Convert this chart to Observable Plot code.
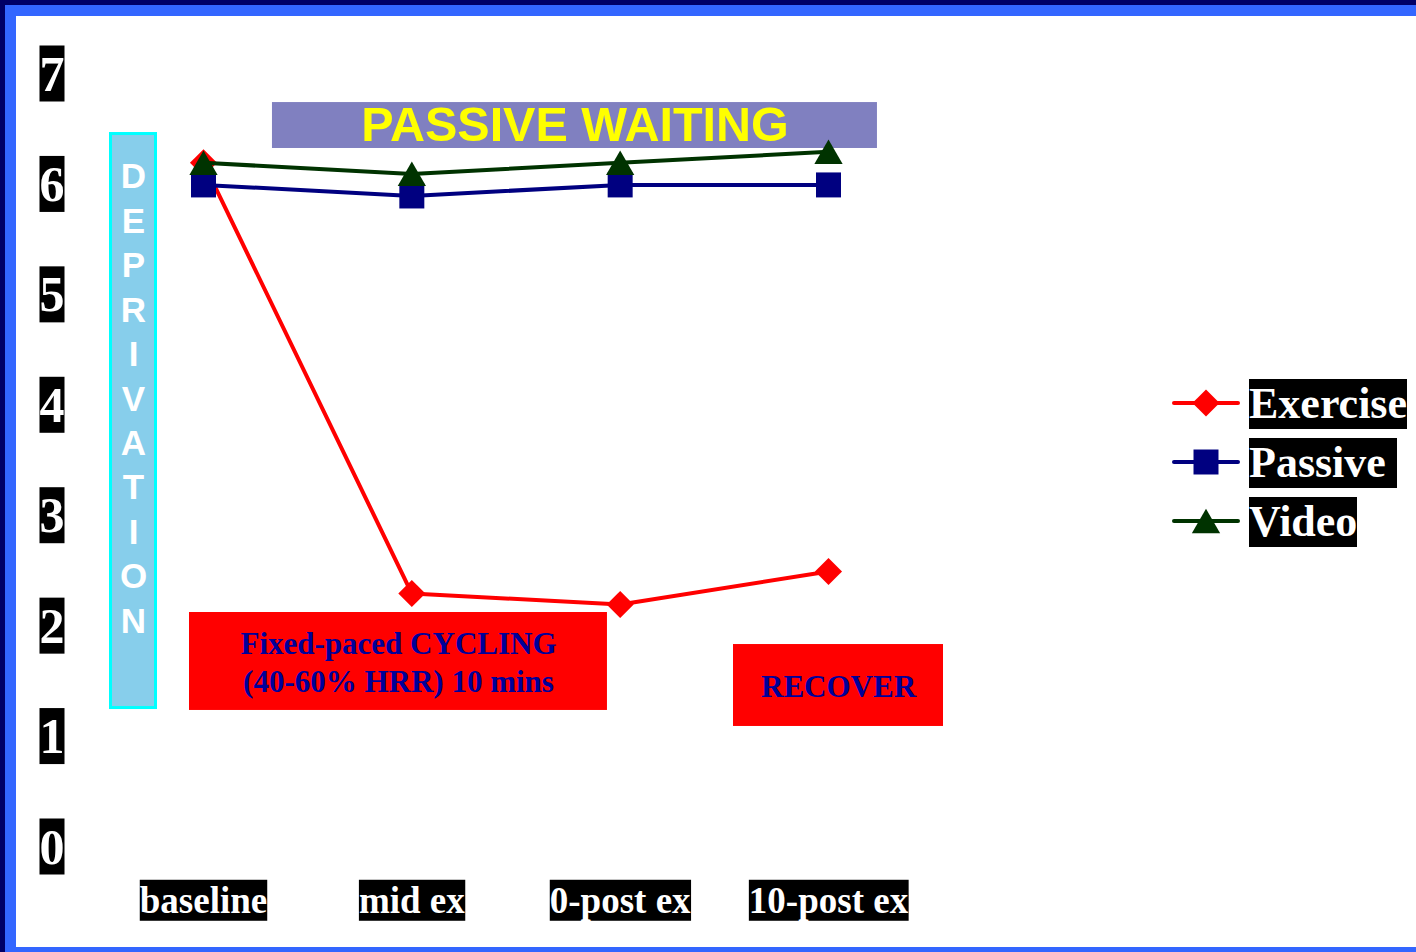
<!DOCTYPE html>
<html><head><meta charset="utf-8">
<script src="https://cdn.jsdelivr.net/npm/d3@7"></script>
<script src="https://cdn.jsdelivr.net/npm/@observablehq/plot@0.6"></script>
<style>
html,body{margin:0;padding:0;background:#fff;}
#wrap{position:relative;width:1416px;height:952px;overflow:hidden;background:#fff;}
#chart{position:absolute;left:0;top:0;}
.b{position:absolute;pointer-events:none;}
#legend{position:absolute;left:1172px;top:379px;font-family:"Liberation Serif","Times New Roman",serif;font-weight:bold;font-size:44px;}
.row{display:flex;align-items:center;height:50px;margin-bottom:9px;}
.row svg{display:block;}
.lab{background:#000;color:#fff;line-height:50px;height:50px;padding:0;margin-left:9px;white-space:pre;}
</style></head>
<body>
<div id="wrap">
  <div id="chart"></div>
  <div id="legend"></div>
  <div class="b" style="left:0;top:0;width:1416px;height:5px;background:#000066"></div>
  <div class="b" style="left:0;top:0;width:5px;height:952px;background:#000066"></div>
  <div class="b" style="left:5px;top:5px;width:1411px;height:11px;background:#3366FF"></div>
  <div class="b" style="left:5px;top:5px;width:11px;height:947px;background:#3366FF"></div>
  <div class="b" style="left:5px;top:947px;width:1411px;height:5px;background:#3366FF"></div>
</div>
<script>
// ---- data ----
const categories = ["baseline", "mid ex", "0-post ex", "10-post ex"];
const seriesNames = ["Exercise", "Passive", "Video"];
const exercise = [6.2, 2.3, 2.2, 2.5];
const passive  = [6.0, 5.9, 6.0, 6.0];
const video    = [6.2, 6.1, 6.2, 6.3];
const yTicks = [0, 1, 2, 3, 4, 5, 6, 7];

const colors = {Exercise: "#FF0000", Passive: "#000080", Video: "#003300"};
const rows = (vals) => vals.map((v, i) => ({i, v}));
const exRows = rows(exercise), paRows = rows(passive), viRows = rows(video);

const serif = "Liberation Serif, Times New Roman, serif";
const sans = "Liberation Sans, Arial, sans-serif";

const chart = Plot.plot({
  width: 1416,
  height: 952,
  marginLeft: 203,
  marginRight: 588,
  marginTop: 74,
  marginBottom: 105,
  style: {background: "white", overflow: "visible"},
  x: {domain: [0, 3]},
  y: {domain: [0, 7]},
  marks: [
    // annotation boxes
    Plot.rect([0], {x1: 0.331, x2: 3.235, y1: 6.33, y2: 6.746, fill: "#8080C0"}),
    Plot.text(["PASSIVE WAITING"], {x: 1.783, y: 6.538, text: d => d, fill: "#FFFF00",
      fontFamily: sans, fontWeight: "bold", fontSize: 48.5}),
    Plot.rect([0], {x1: -0.444, x2: -0.228, y1: 1.263, y2: 6.461, fill: "#87CEEB", stroke: "#00FFFF", strokeWidth: 3}),
    Plot.text(["D\nE\nP\nR\nI\nV\nA\nT\nI\nO\nN"], {x: -0.336, y: 4.086, text: d => d, fill: "white",
      fontFamily: sans, fontWeight: "bold", fontSize: 35, lineHeight: 1.27}),
    Plot.rect([0], {x1: -0.0672, x2: 1.939, y1: 1.241, y2: 2.128, fill: "#FF0000"}),
    Plot.text(["Fixed-paced CYCLING\n(40-60% HRR) 10 mins"], {x: 0.936, y: 1.69, text: d => d, fill: "#000099",
      fontFamily: serif, fontWeight: "bold", fontSize: 31, lineHeight: 1.23}),
    Plot.rect([0], {x1: 2.544, x2: 3.552, y1: 1.096, y2: 1.838, fill: "#FF0000"}),
    Plot.text(["RECOVER"], {x: 3.048, y: 1.453, text: d => d, fill: "#000099",
      fontFamily: serif, fontWeight: "bold", fontSize: 31}),
    // axes
    Plot.axisY(yTicks, {tickSize: 0, tickPadding: 139, label: null,
      fontSize: 50, fontWeight: "bold", fontFamily: serif, color: "white", fill: "white",
      tickFormat: d => String(d)}),
    Plot.axisX([0, 1, 2, 3], {tickSize: 0, tickPadding: 39, label: null,
      fontSize: 37, fontWeight: "bold", fontFamily: serif, color: "white", fill: "white",
      tickFormat: i => categories[i]}),
    // series
    Plot.line(exRows, {x: "i", y: "v", stroke: colors.Exercise, strokeWidth: 4}),
    Plot.dot(exRows, {x: "i", y: "v", symbol: "diamond2", r: 12.2, fill: colors.Exercise, stroke: "none"}),
    Plot.line(paRows, {x: "i", y: "v", stroke: colors.Passive, strokeWidth: 4}),
    Plot.dot(paRows, {x: "i", y: "v", symbol: "square", r: 14.1, fill: colors.Passive, stroke: "none"}),
    Plot.line(viRows, {x: "i", y: "v", stroke: colors.Video, strokeWidth: 4}),
    Plot.dot(viRows, {x: "i", y: "v", symbol: "triangle", r: 10.5, dy: 4, fill: colors.Video, stroke: "none"})
  ]
});

document.getElementById("chart").append(chart);

// black boxes behind axis tick labels
const ns = "http://www.w3.org/2000/svg";
const texts = chart.querySelectorAll('g[aria-label$="-axis tick label"] text');
texts.forEach(t => {
  const bb = t.getBBox();
  const r = document.createElementNS(ns, "rect");
  r.setAttribute("x", bb.x);
  r.setAttribute("y", bb.y);
  r.setAttribute("width", bb.width);
  r.setAttribute("height", bb.height);
  r.setAttribute("fill", "black");
  r.setAttribute("stroke", "none");
  const tr = t.getAttribute("transform");
  if (tr) r.setAttribute("transform", tr);
  t.parentNode.insertBefore(r, t);
});

// legend
const symbols = {
  Exercise: {type: d3.symbolDiamond2, r: 12.2, dy: 0},
  Passive: {type: d3.symbolSquare, r: 14.1, dy: 0},
  Video: {type: d3.symbolTriangle, r: 10.5, dy: 4}
};
const legend = d3.select("#legend");
seriesNames.forEach(name => {
  const row = legend.append("div").attr("class", "row");
  const s = row.append("svg").attr("width", 68).attr("height", 50);
  s.append("line").attr("x1", 2).attr("x2", 66).attr("y1", 24).attr("y2", 24)
    .attr("stroke", colors[name]).attr("stroke-width", 4).attr("stroke-linecap", "round");
  const sym = symbols[name];
  s.append("path").attr("d", d3.symbol(sym.type, Math.PI * sym.r * sym.r)())
    .attr("transform", `translate(34,${24 + sym.dy})`).attr("fill", colors[name]);
  row.append("span").attr("class", "lab").text(name === "Passive" ? "Passive\u00a0" : name);
});
</script>
</body></html>
